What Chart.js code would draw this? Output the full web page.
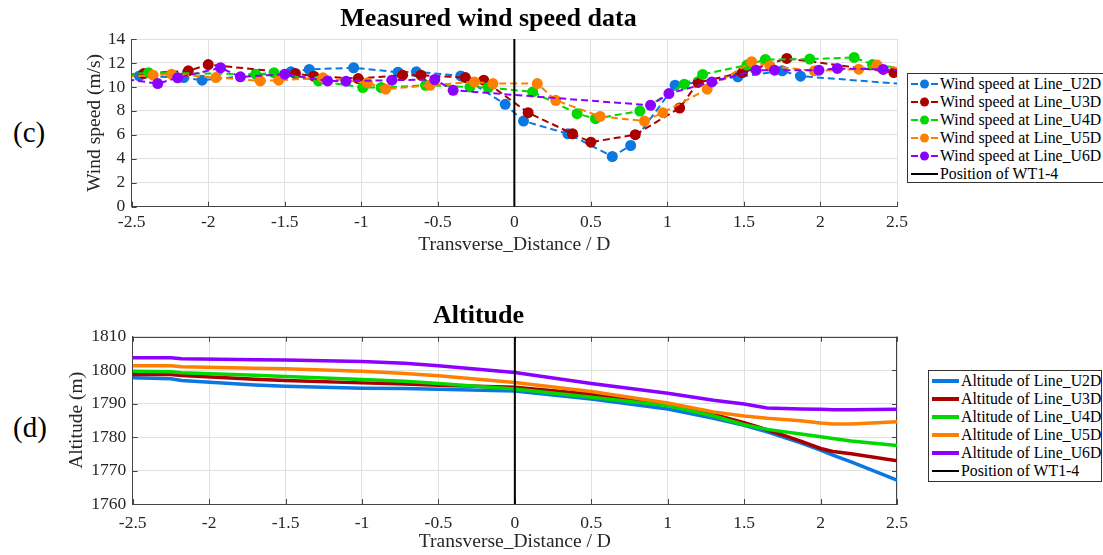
<!DOCTYPE html>
<html>
<head>
<meta charset="utf-8">
<script src="https://cdn.jsdelivr.net/npm/chart.js@4.4.0/dist/chart.umd.min.js"></script>
<style>
  body { margin: 0; width: 1103px; height: 555px; position: relative; overflow: hidden; background: #fff; font-family: 'Liberation Serif', 'DejaVu Serif', serif; }
  canvas { position: absolute; left: 0; }
  .tag { position: absolute; font-size: 29px; line-height: 1; color: #000; }
  .legend { position: absolute; border: 1px solid #333; background: #fff; padding: 1px 0 0 2px; font-size: 15.8px; color: #000; white-space: nowrap; box-sizing: border-box; }
  .legend .row { height: 18px; line-height: 18px; display: flex; align-items: center; }
  .legend svg { flex: none; }
</style>
</head>
<body>
<div class="tag" style="left:13px;top:118px">(c)</div>
<div class="tag" style="left:13px;top:413px">(d)</div>
<canvas id="windChart" width="1103" height="262" style="top:0"></canvas>
<canvas id="altChart" width="1103" height="275" style="top:280px"></canvas>
<div id="windLegend" class="legend" style="left:907px;top:73px;width:210px;height:110px"></div>
<div id="altLegend" class="legend" style="left:928px;top:370px;width:174px;height:112px"></div>
<script>
// Measured wind speed (m/s) along each line, x = transverse distance / D
const lineNames = ['U2D', 'U3D', 'U4D', 'U5D', 'U6D'];
const lineColors = ['#0a78e0', '#aa0000', '#00d800', '#ff8000', '#8c00ff'];

const windX_U2D = [-2.6, -2.45, -2.16, -2.04, -1.46, -1.34, -1.05, -0.76, -0.64, -0.35, -0.06, 0.06, 0.35, 0.64, 0.76, 1.05, 1.46, 1.75, 1.87, 2.6];
const windY_U2D = [10.9, 10.92, 10.78, 10.56, 11.26, 11.46, 11.6, 11.23, 11.26, 10.92, 8.55, 7.15, 6.09, 4.19, 5.11, 10.14, 10.84, 11.34, 10.9, 10.18];

const windX_U3D = [-2.6, -2.42, -2.13, -2.0, -1.43, -1.31, -1.02, -0.73, -0.61, -0.32, -0.2, 0.09, 0.38, 0.5, 0.79, 1.08, 1.2, 1.49, 1.78, 2.48];
const windY_U3D = [11.0, 11.12, 11.34, 11.87, 11.12, 10.9, 10.7, 10.98, 10.98, 10.78, 10.56, 7.85, 6.09, 5.39, 6.01, 8.24, 10.37, 11.2, 12.38, 11.2];

const windX_U4D = [-2.6, -2.39, -1.69, -1.57, -1.28, -0.99, -0.87, -0.58, -0.29, -0.17, 0.12, 0.41, 0.53, 0.82, 1.11, 1.23, 1.52, 1.64, 1.93, 2.22, 2.34, 2.6];
const windY_U4D = [11.0, 11.18, 11.06, 11.18, 10.5, 9.95, 9.95, 10.14, 10.0, 9.95, 9.58, 7.77, 7.35, 7.99, 10.23, 11.04, 11.82, 12.29, 12.32, 12.46, 11.87, 11.45];

const windX_U5D = [-2.6, -2.36, -2.24, -1.95, -1.66, -1.54, -1.25, -0.96, -0.84, -0.55, -0.26, -0.14, 0.15, 0.27, 0.56, 0.85, 0.97, 1.26, 1.55, 1.67, 1.96, 2.25, 2.37, 2.6];
const windY_U5D = [10.8, 10.98, 11.06, 10.78, 10.5, 10.56, 10.76, 10.34, 9.81, 10.14, 10.42, 10.28, 10.28, 8.88, 7.54, 7.15, 7.85, 9.81, 12.1, 11.76, 11.34, 11.48, 11.82, 11.4];

const windX_U6D = [-2.6, -2.33, -2.2, -1.92, -1.79, -1.5, -1.22, -1.1, -0.8, -0.52, -0.4, 0.89, 1.01, 1.29, 1.58, 1.7, 1.99, 2.11, 2.41, 2.6];
const windY_U6D = [10.75, 10.28, 10.76, 11.6, 10.84, 11.06, 10.5, 10.48, 10.56, 10.62, 9.72, 8.47, 9.44, 10.42, 11.4, 11.4, 11.4, 11.54, 11.46, 11.35];

// Altitude (m) along each line
const altX = [-2.5, -2.25, -2.18, -1.7, -1.5, -1.0, -0.72, -0.5, 0, 0.5, 1.0, 1.3, 1.5, 1.65, 1.87, 2.0, 2.08, 2.2, 2.5];
const alt_U2D = [1797.7, 1797.4, 1796.9, 1795.6, 1795.2, 1794.6, 1794.5, 1794.3, 1793.8, 1791.4, 1788.4, 1785.6, 1783.5, 1781.6, 1778.3, 1776.1, 1774.6, 1772.6, 1767.1];
const alt_U3D = [1798.7, 1798.7, 1798.4, 1797.3, 1796.9, 1796.2, 1795.9, 1795.5, 1794.9, 1792.8, 1789.9, 1786.8, 1784.3, 1782.2, 1778.8, 1776.6, 1775.7, 1775.0, 1772.9];
const alt_U4D = [1799.7, 1799.5, 1799.2, 1798.5, 1798.1, 1797.2, 1796.7, 1796.0, 1794.4, 1791.9, 1789.4, 1786.3, 1783.7, 1782.3, 1780.9, 1780.1, 1779.6, 1778.8, 1777.5];
const alt_U5D = [1801.3, 1801.3, 1801.0, 1800.6, 1800.4, 1799.7, 1799.0, 1798.3, 1796.3, 1793.6, 1790.2, 1787.5, 1786.3, 1785.6, 1784.9, 1784.2, 1783.9, 1783.9, 1784.6];
const alt_U6D = [1803.7, 1803.7, 1803.4, 1803.1, 1803.0, 1802.6, 1802.1, 1801.3, 1799.3, 1796.0, 1793.1, 1791.0, 1789.9, 1788.7, 1788.4, 1788.3, 1788.2, 1788.2, 1788.3];

const turbineX = 0;
const windRange = [0, 14];
const altRange = [1760, 1810];
const distRange = [-2.5, 2.5];

const windX = [windX_U2D, windX_U3D, windX_U4D, windX_U5D, windX_U6D];
const windY = [windY_U2D, windY_U3D, windY_U4D, windY_U5D, windY_U6D];
const altY = [alt_U2D, alt_U3D, alt_U4D, alt_U5D, alt_U6D];

const serif = "'Liberation Serif', 'Times New Roman', serif";
const axisColor = '#444';
const gridColor = '#e0e0e0';

const zip = (xs, ys) => xs.map((x, i) => ({ x: x, y: ys[i] }));

// MATLAB-like inward tick marks (+ optional full box)
const inwardTicks = {
  id: 'inwardTicks',
  beforeDatasetsDraw(chart, args, opts) {
    const { ctx, chartArea: a, scales: { x, y } } = chart;
    const len = 5;
    ctx.save();
    ctx.strokeStyle = axisColor;
    ctx.lineWidth = 1;
    ctx.beginPath();
    x.ticks.forEach(t => {
      const px = Math.round(x.getPixelForValue(t.value)) + 0.5;
      ctx.moveTo(px, a.bottom); ctx.lineTo(px, a.bottom - len);
      if (opts.box) { ctx.moveTo(px, a.top); ctx.lineTo(px, a.top + len); }
    });
    y.ticks.forEach(t => {
      const py = Math.round(y.getPixelForValue(t.value)) + 0.5;
      ctx.moveTo(a.left, py); ctx.lineTo(a.left + len, py);
      if (opts.box) { ctx.moveTo(a.right, py); ctx.lineTo(a.right - len, py); }
    });
    if (opts.box) {
      ctx.moveTo(a.left, Math.round(a.top) + 0.5); ctx.lineTo(a.right, Math.round(a.top) + 0.5);
      ctx.moveTo(Math.round(a.right) - 0.5, a.top); ctx.lineTo(Math.round(a.right) - 0.5, a.bottom);
    }
    ctx.stroke();
    ctx.restore();
  }
};

function scalesFor(yMin, yMax, yStep, yTitle, yWidth, yTitlePad, xHeight, xTickPad, xTitlePad) {
  return {
    x: {
      type: 'linear', min: distRange[0], max: distRange[1],
      ticks: { stepSize: 0.5, autoSkip: false, callback: v => String(v), color: '#262626', font: { family: serif, size: 17.5 }, padding: xTickPad, maxRotation: 0 },
      grid: { color: gridColor, drawTicks: false },
      border: { color: axisColor },
      title: { display: true, text: 'Transverse_Distance / D', color: '#262626', font: { family: serif, size: 19.5 }, padding: { top: 0, bottom: xTitlePad } },
      afterFit: s => { s.height = xHeight; }
    },
    y: {
      min: yMin, max: yMax,
      ticks: { stepSize: yStep, autoSkip: false, callback: v => String(v), color: '#262626', font: { family: serif, size: 17.5 }, padding: 6.5 },
      grid: { color: gridColor, drawTicks: false },
      border: { color: axisColor },
      title: { display: true, text: yTitle, color: '#262626', font: { family: serif, size: 19.5 }, padding: { top: yTitlePad, bottom: 0 } },
      afterFit: s => { s.width = yWidth; }
    }
  };
}

const windSets = lineNames.map((n, i) => ({
  label: 'Wind speed at Line_' + n,
  data: zip(windX[i], windY[i]),
  borderColor: lineColors[i],
  backgroundColor: lineColors[i],
  borderWidth: 2,
  borderDash: [7, 4],
  pointRadius: 5.5,
  pointBorderWidth: 0,
  pointBackgroundColor: lineColors[i],
  clip: 0,
  order: 5 - i
}));
windSets.push({
  label: 'Position of WT1-4',
  data: [{ x: turbineX, y: windRange[0] }, { x: turbineX, y: windRange[1] }],
  borderColor: '#000', borderWidth: 2, pointRadius: 0, order: -1
});

new Chart(document.getElementById('windChart'), {
  type: 'line',
  data: { datasets: windSets },
  options: {
    responsive: false, animation: false,
    layout: { padding: { left: 80, right: 206, top: 0, bottom: 0 } },
    plugins: {
      legend: { display: false }, tooltip: { enabled: false },
      title: { display: true, text: 'Measured wind speed data', color: '#000', font: { family: serif, size: 26, weight: 'bold' }, padding: { top: 3.4, bottom: 4.4 } },
      inwardTicks: { box: false }
    },
    scales: scalesFor(windRange[0], windRange[1], 2, 'Wind speed (m/s)', 51.7, 3, 55.3, 5, 5)
  },
  plugins: [inwardTicks]
});

const altSets = lineNames.map((n, i) => ({
  label: 'Altitude of Line_' + n,
  data: zip(altX, altY[i]),
  borderColor: lineColors[i],
  backgroundColor: lineColors[i],
  borderWidth: 3.5,
  pointRadius: 0,
  order: 5 - i
}));
altSets.push({
  label: 'Position of WT1-4',
  data: [{ x: turbineX, y: altRange[0] }, { x: turbineX, y: altRange[1] }],
  borderColor: '#000', borderWidth: 2, pointRadius: 0, order: -1
});

new Chart(document.getElementById('altChart'), {
  type: 'line',
  data: { datasets: altSets },
  options: {
    responsive: false, animation: false,
    layout: { padding: { left: 60, right: 206, top: 0, bottom: 0 } },
    plugins: {
      legend: { display: false }, tooltip: { enabled: false },
      title: { display: true, text: 'Altitude', color: '#000', font: { family: serif, size: 26, weight: 'bold' }, padding: { top: 20.9, bottom: 4.6 } },
      inwardTicks: { box: true }
    },
    scales: scalesFor(altRange[0], altRange[1], 10, 'Altitude (m)', 72.7, 5, 51, 8.5, 1)
  },
  plugins: [inwardTicks]
});

// HTML legends built from the same series lists
function legendRow(label, color, withMarker, width) {
  let svg;
  if (withMarker) {
    svg = '<svg width="30" height="18"><line x1="1" y1="9" x2="8" y2="9" stroke="' + color + '" stroke-width="2"/>' +
      '<circle cx="14.5" cy="9" r="4.5" fill="' + color + '"/>' +
      '<line x1="21" y1="9" x2="28" y2="9" stroke="' + color + '" stroke-width="2"/></svg>';
  } else {
    svg = '<svg width="30" height="18"><line x1="1" y1="9" x2="28" y2="9" stroke="' + color + '" stroke-width="' + width + '"/></svg>';
  }
  return '<div class="row">' + svg + '<span>' + label + '</span></div>';
}

document.getElementById('windLegend').innerHTML =
  lineNames.map((n, i) => legendRow('Wind speed at Line_' + n, lineColors[i], true)).join('') +
  legendRow('Position of WT1-4', '#000', false, 2);

document.getElementById('altLegend').innerHTML =
  lineNames.map((n, i) => legendRow('Altitude of Line_' + n, lineColors[i], false, 4)).join('') +
  legendRow('Position of WT1-4', '#000', false, 2);
</script>
</body>
</html>
